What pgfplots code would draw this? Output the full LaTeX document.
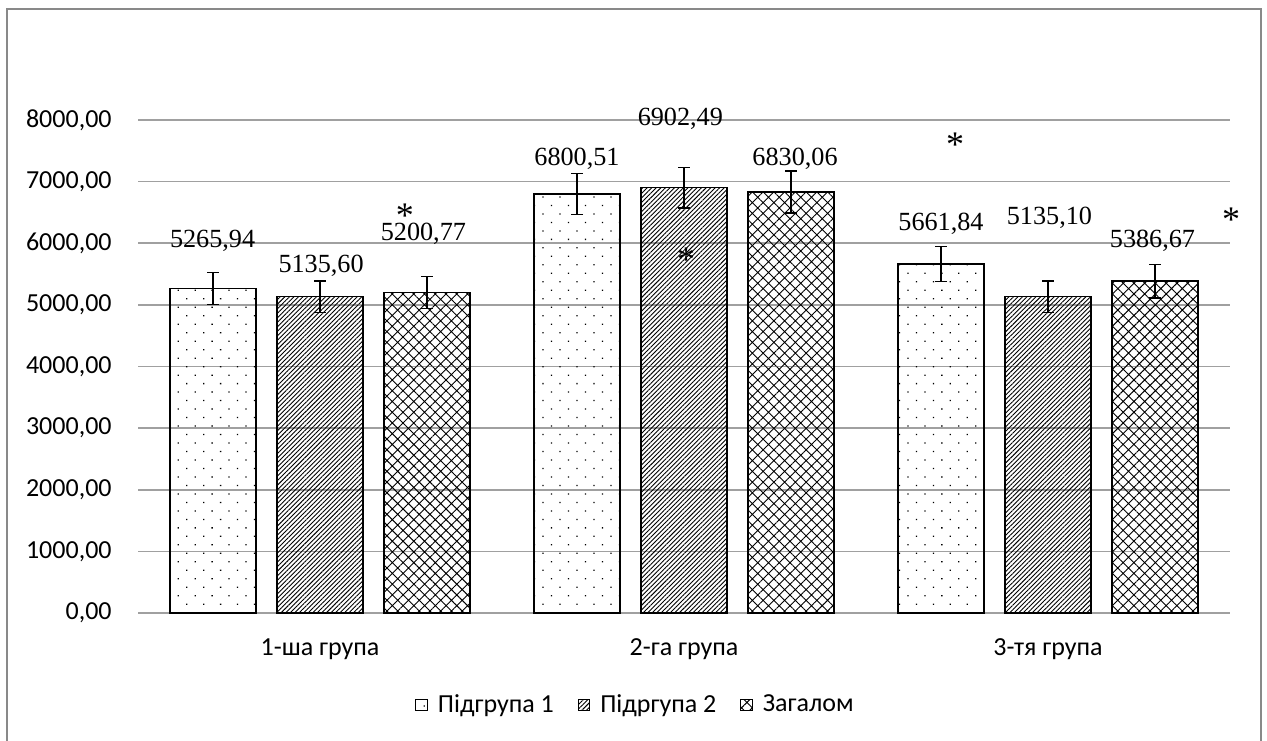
\documentclass[border=0pt]{standalone}
\usepackage{fontspec}
\setmainfont{Liberation Serif}
\newfontfamily\carlito{Carlito}
\usepackage{pgfplots}
\pgfplotsset{compat=1.18}
\usetikzlibrary{patterns.meta}
\definecolor{gridgray}{RGB}{160,160,160}
\definecolor{framegray}{RGB}{137,137,137}
\newcommand{\lblfont}{\fontsize{13.1}{15}\selectfont}
\newcommand{\astfont}{\fontsize{18}{20}\selectfont}
\newcommand{\tickfont}{\carlito\fontsize{13}{15}\selectfont}
\newcommand{\starmark}{\raisebox{-0.52em}[0pt][0pt]{*}}
\begin{document}
\begin{tikzpicture}
\path[use as bounding box] (-69pt,-63.5pt) rectangle (564.5pt,306.5pt);
\draw[framegray, line width=1pt] (-65.25pt,-80pt) rectangle (561.25pt,302pt);
\begin{axis}[
  scale only axis, width=546pt, height=246.5pt,
  at={(0pt,0pt)}, anchor=south west,
  xmin=-0.5, xmax=2.5, ymin=0, ymax=8000,
  ybar=10.5pt, bar width=43pt,
  clip=false,
  axis line style={draw=none},
  major tick length=0pt,
  ymajorgrids, grid style={gridgray, line width=0.8pt},
  ytick={0,1000,...,8000},
  xtick={0,1,2}, xticklabels={1-ша група, 2-га група, 3-тя група},
  tick label style={font=\tickfont},
  yticklabel style={anchor=east, inner sep=0pt, xshift=-13pt,
    /pgf/number format/fixed, /pgf/number format/fixed zerofill,
    /pgf/number format/precision=2, /pgf/number format/use comma,
    /pgf/number format/1000 sep={}, /pgf/number format/assume math mode=true},
  xticklabel style={anchor=north, inner sep=0pt, yshift=-12.5pt},
  legend style={draw=none, at={(0.4565,-0.1866)}, anchor=center,
    legend columns=3, font=\tickfont,
    /tikz/every even column/.append style={column sep=10pt}},
  legend image code/.code={\draw[#1, line width=0.5pt] (0pt,-2.8pt) rectangle (5.6pt,2.8pt); \path[draw=none, fill=none, pattern=none] (0pt,0pt) -- (9pt,0pt);},
  every axis plot/.append style={draw=black, line width=0.7pt},
]
\addplot[pattern={Dots[angle=45, distance=6pt, radius=0.45pt]},
  error bars/.cd, y dir=both, y explicit,
  error bar style={line width=0.7pt, black},
  error mark options={rotate=90, mark size=3pt, line width=0.7pt, black}]
  coordinates {(0,5265.94) +- (0,260) (1,6800.51) +- (0,335) (2,5661.84) +- (0,283)};
\addplot[pattern={Lines[angle=45, distance=1.6pt, line width=0.45pt]},
  error bars/.cd, y dir=both, y explicit,
  error bar style={line width=0.7pt, black},
  error mark options={rotate=90, mark size=3pt, line width=0.7pt, black}]
  coordinates {(0,5135.60) +- (0,255) (1,6902.49) +- (0,330) (2,5135.10) +- (0,255)};
\addplot[pattern={Hatch[angle=45, distance=3.8pt, line width=0.45pt]},
  error bars/.cd, y dir=both, y explicit,
  error bar style={line width=0.7pt, black},
  error mark options={rotate=90, mark size=3pt, line width=0.7pt, black}]
  coordinates {(0,5200.77) +- (0,260) (1,6830.06) +- (0,340) (2,5386.67) +- (0,272)};
\legend{Підгрупа 1, Підргупа 2, Загалом}
% data labels
\node[font=\lblfont] at (axis cs:-0.295,6036) {5265,94};
\node[font=\lblfont] at (axis cs:0.003,5631) {5135,60};
\node[font=\lblfont] at (axis cs:0.284,6150) {5200,77};
\node[font=\lblfont] at (axis cs:0.706,7367) {6800,51};
\node[font=\lblfont] at (axis cs:0.990,8016) {6902,49};
\node[font=\lblfont] at (axis cs:1.305,7367) {6830,06};
\node[font=\lblfont] at (axis cs:1.706,6312) {5661,84};
\node[font=\lblfont] at (axis cs:2.004,6418) {5135,10};
\node[font=\lblfont] at (axis cs:2.287,6036) {5386,67};
% asterisks
\node[font=\astfont, inner sep=0pt] at (axis cs:0.2335,6560) {\starmark};
\node[font=\astfont, inner sep=0pt] at (axis cs:1.0055,5842) {\starmark};
\node[font=\astfont, inner sep=0pt] at (axis cs:1.7445,7708) {\starmark};
\node[font=\astfont, inner sep=0pt] at (axis cs:2.503,6491) {\starmark};
\end{axis}
\end{tikzpicture}
\end{document}
